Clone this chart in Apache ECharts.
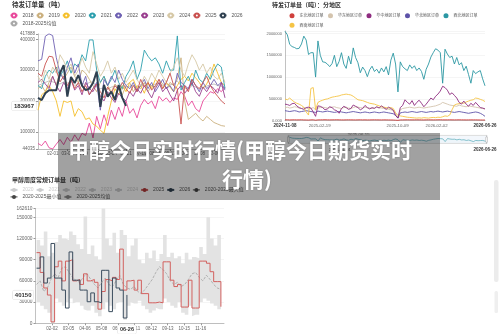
<!DOCTYPE html>
<html>
<head>
<meta charset="utf-8">
<script src="https://cdn.jsdelivr.net/npm/echarts@6/dist/echarts.min.js"></script>
<style>
html, body { margin: 0; padding: 0; background: #fff; }
#wrap { position: relative; width: 500px; height: 334px; overflow: hidden; }
.layer { position: absolute; left: 0; top: 0; width: 500px; height: 334px; }
</style>
</head>
<body>
<div id="wrap">
    <div id="orders" class="layer"></div>
    <div id="region" class="layer"></div>
    <div id="weekly" class="layer"></div>
    <div id="banner" class="layer"></div>
</div>
<script>
const FONT = '"Liberation Sans", "Noto Sans CJK SC", sans-serif';
const CJK = '"Noto Sans CJK SC", sans-serif';

/* ---------- 待发订单量（吨）: 按年 ---------- */
const orderWeeks = ["01-04", "01-11", "01-18", "01-25", "02-01", "02-08", "02-15", "02-22", "03-01", "03-08",
    "03-15", "03-22", "03-29", "04-05", "04-12", "04-19", "04-26", "05-03", "05-10", "05-17",
    "05-24", "05-31", "06-07", "06-14", "06-21", "06-28", "07-05", "07-12", "07-19", "07-26",
    "08-02", "08-09", "08-16", "08-23", "08-30", "09-06", "09-13", "09-20", "09-27", "10-04",
    "10-11", "10-18", "10-25", "11-01", "11-08", "11-15", "11-22", "11-29", "12-06", "12-13",
    "12-20", "12-27"];
const orders2018 = [62000, 55000, 70000, 48000, 44035, 60000, 75000, 58000, 82000, 66000,
    90000, 72000, 95000, 88000, 128000, 80000, 150000, 110000, 155000, 120000,
    170000, 140000, 180000, 150000, 200000, 160000, 175000, 145000, 185000, 205000,
    190000, 200000, 175000, 215000, 200000, 210000, 195000, 210000, 205000, 230000,
    215000, 185000, 200000, 175000, 165000, 200000, 215000, 230000, 225000, 240000,
    230000, 245000];
const orders2019 = [240000, 250000, 230000, 260000, 280000, 250000, 300000, 270000, 290000, 310000,
    280000, 260000, 300000, 290000, 270000, 250000, 230000, 260000, 280000, 250000,
    230000, 255000, 240000, 220000, 250000, 260000, 230000, 250000, 240000, 260000,
    230000, 250000, 245000, 270000, 255000, 240000, 260000, 250000, 270000, 340000,
    200000, 140000, 150000, 160000, 145000, 135000, 150000, 140000, 130000, 125000,
    120000, 118000];
const orders2020 = [170000, 220000, 230000, 250000, 230000, 200000, 150000, 200000, 195000, 200000,
    150000, 175000, 165000, 140000, 145000, 125000, 118000, 105000, 95000, 150000,
    200000, 240000, 220000, 250000, 230000, 260000, 270000, 240000, 250000, 225000,
    260000, 240000, 270000, 255000, 240000, 260000, 245000, 230000, 250000, 270000,
    280000, 265000, 290000, 275000, 260000, 240000, 255000, 280000, 320000, 290000,
    260000, 250000];
const orders2021 = [250000, 240000, 280000, 300000, 290000, 310000, 280000, 300000, 330000, 290000,
    320000, 310000, 350000, 330000, 398000, 398000, 300000, 260000, 280000, 250000,
    270000, 300000, 260000, 240000, 280000, 300000, 330000, 270000, 300000, 365000,
    345000, 330000, 340000, 320000, 290000, 330000, 300000, 300000, 411000, 235000,
    260000, 280000, 250000, 300000, 270000, 260000, 290000, 270000, 300000, 320000,
    310000, 240000];
const orders2022 = [330000, 335000, 410000, 417888, 412000, 340000, 290000, 270000, 310000, 340000,
    290000, 320000, 250000, 280000, 220000, 240000, 260000, 170000, 270000, 250000,
    280000, 260000, 300000, 270000, 250000, 240000, 260000, 230000, 250000, 270000,
    240000, 260000, 230000, 250000, 270000, 240000, 250000, 230000, 290000, 260000,
    250000, 240000, 270000, 250000, 230000, 260000, 240000, 250000, 270000, 250000,
    260000, 235000];
const orders2023 = [260000, 270000, 255000, 240000, 280000, 250000, 230000, 260000, 240000, 270000,
    235000, 250000, 220000, 260000, 240000, 230000, 255000, 215000, 200000, 230000,
    210000, 195000, 225000, 210000, 200000, 230000, 215000, 240000, 225000, 250000,
    230000, 210000, 240000, 260000, 230000, 245000, 220000, 200000, 235000, 250000,
    225000, 240000, 260000, 230000, 215000, 245000, 230000, 250000, 240000, 225000,
    260000, 210000];
const orders2024 = [280000, 260000, 300000, 270000, 310000, 290000, 350000, 330000, 300000, 320000,
    280000, 300000, 340000, 310000, 290000, 360000, 320000, 280000, 300000, 330000,
    290000, 310000, 270000, 290000, 260000, 280000, 300000, 270000, 250000, 280000,
    260000, 290000, 270000, 300000, 280000, 260000, 290000, 310000, 340000, 300000,
    280000, 320000, 350000, 330000, 300000, 320000, 290000, 310000, 280000, 270000,
    290000, 260000];
const orders2025 = [290000, 280000, 320000, 345000, 343000, 300000, 262000, 280000, 250000, 270000,
    240000, 260000, 230000, 250000, 220000, 240000, 255000, 230000, 210000, 245000,
    225000, 250000, 235000, 260000, 240000, 225000, 250000, 230000, 270000, 245000,
    260000, 235000, 250000, 270000, 240000, 260000, 290000, 250000, 240000, 125000,
    250000, 230000, 270000, 250000, 240000, 260000, 280000, 250000, 230000, 215000,
    200000, 190000];
const orders2026 = [210000, 203000, 225000, 235000, 235000, 235000, 290000, 316000, 214000, 278000,
    258000, 284000, 250000, 235000, 240000, 258000, 295000, 181000, 252000, 214000,
    230000, 203000, 252000, 210000, 183967];
const ordersMean = [250000, 255000, 260000, 265000, 262000, 258000, 255000, 262000, 258000, 265000,
    250000, 255000, 258000, 252000, 260000, 262000, 245000, 240000, 242000, 238000,
    245000, 248000, 242000, 238000, 245000, 248000, 250000, 245000, 248000, 258000,
    252000, 250000, 255000, 258000, 250000, 255000, 252000, 255000, 265000, 250000,
    242000, 238000, 250000, 245000, 238000, 245000, 248000, 252000, 255000, 250000,
    248000, 240000];
const ordersLatest = 183967;

/* ---------- 待发订单量（吨）：分地区 ---------- */
const regionDays = [];
for (let t = Date.UTC(2024, 10, 8); t <= Date.UTC(2026, 5, 26); t += 864e5) {
    regionDays.push(new Date(t).toISOString().slice(0, 10));
}
const regionTicks = ["2024-11-08", "2025-02-19", "2025-06-15", "2025-10-09", "2026-02-02", "2026-06-26"];
const regionNE = [20000, 22000, 18000, 20000, 21000, 19000, 20000, 22000, 18000, 17000,
    15000, 20000, 21000, 12000, 19000, 20000, 21000, 22000, 20000, 19000,
    20000, 21000, 22000, 20000, 19000, 18000, 20000, 21000, 20000, 19000,
    18000, 20000, 21000, 19000, 20000, 18000, 19000, 20000, 21000, 20000,
    19000, 18000, 20000, 19000, 18000, 17000, 16000, 12000, 8000, 18000,
    19000, 20000, 21000, 20000, 19000, 20000, 21000, 20000, 19000, 18000,
    20000, 21000, 20000, 19000, 20000, 21000, 22000, 20000, 19000, 20000,
    21000, 20000, 19000, 20000, 21000, 20000, 19000, 18000, 19000, 20000,
    19000, 20000, 18000, 17000, 16000, 15000];
const regionEast = [300000, 310000, 290000, 300000, 320000, 310000, 290000, 280000, 300000, 290000,
    270000, 280000, 300000, 250000, 290000, 300000, 310000, 300000, 290000, 300000,
    310000, 320000, 300000, 290000, 280000, 300000, 310000, 290000, 280000, 300000,
    320000, 310000, 300000, 290000, 310000, 300000, 290000, 280000, 300000, 310000,
    300000, 290000, 280000, 270000, 260000, 250000, 240000, 150000, 80000, 250000,
    280000, 290000, 300000, 310000, 300000, 290000, 300000, 310000, 300000, 290000,
    300000, 310000, 320000, 330000, 340000, 360000, 380000, 420000, 400000, 380000,
    360000, 350000, 340000, 330000, 360000, 340000, 330000, 320000, 340000, 330000,
    320000, 310000, 300000, 290000, 280000, 270000];
const regionCentral = [380000, 370000, 350000, 390000, 400000, 340000, 300000, 280000, 260000, 300000,
    310000, 290000, 200000, 100000, 340000, 330000, 300000, 250000, 270000, 320000,
    300000, 250000, 230000, 170000, 280000, 330000, 300000, 260000, 280000, 360000,
    330000, 300000, 250000, 280000, 350000, 300000, 270000, 300000, 280000, 320000,
    290000, 340000, 300000, 260000, 310000, 280000, 240000, 120000, 60000, 300000,
    350000, 480000, 420000, 380000, 460000, 350000, 420000, 470000, 400000, 320000,
    380000, 450000, 520000, 480000, 560000, 610000, 680000, 790000, 760000, 700000,
    600000, 640000, 580000, 520000, 420000, 380000, 450000, 380000, 330000, 400000,
    350000, 420000, 360000, 300000, 290000, 270000];
const regionNorth = [230000, 220000, 210000, 220000, 230000, 220000, 200000, 210000, 220000, 230000,
    220000, 210000, 200000, 190000, 220000, 210000, 200000, 210000, 220000, 210000,
    200000, 190000, 200000, 210000, 200000, 190000, 180000, 190000, 200000, 210000,
    200000, 190000, 180000, 190000, 200000, 190000, 180000, 190000, 200000, 190000,
    180000, 190000, 200000, 190000, 180000, 170000, 160000, 120000, 60000, 180000,
    190000, 200000, 190000, 200000, 210000, 200000, 190000, 200000, 210000, 200000,
    190000, 200000, 210000, 200000, 210000, 220000, 210000, 200000, 210000, 220000,
    210000, 200000, 190000, 200000, 210000, 200000, 190000, 180000, 170000, 180000,
    190000, 200000, 190000, 170000, 140000, 100000];
const regionNW = [2050000, 1970000, 1750000, 1700000, 1680000, 1650000, 1660000, 1760000, 1940000, 1850000,
    1520000, 1560000, 1560000, 1000000, 1830000, 1500000, 1350000, 1340000, 1300000, 1240000,
    1310000, 1500000, 1240000, 1360000, 1560000, 1300000, 1200000, 1480000, 1300000, 1670000,
    1450000, 1330000, 1100000, 1230000, 1150000, 1010000, 1170000, 1250000, 1130000, 1180000,
    1090000, 1210000, 1120000, 1240000, 1050000, 1390000, 1550000, 1300000, 660000, 1350000,
    1240000, 1190000, 1150000, 1280000, 1200000, 1260000, 1150000, 1210000, 1130000, 950000,
    1180000, 1300000, 1460000, 1560000, 1650000, 1620000, 1560000, 860000, 1640000, 1530000,
    1450000, 1480000, 1300000, 1450000, 1280000, 1330000, 1150000, 1250000, 1060000, 860000,
    1150000, 1080000, 1120000, 1150000, 960000, 800000];
const regionSW = [500000, 480000, 520000, 470000, 430000, 400000, 380000, 350000, 310000, 200000,
    130000, 740000, 760000, 250000, 420000, 450000, 470000, 490000, 500000, 520000,
    540000, 550000, 560000, 570000, 590000, 600000, 610000, 600000, 590000, 560000,
    520000, 480000, 470000, 460000, 440000, 420000, 400000, 390000, 380000, 360000,
    340000, 320000, 310000, 300000, 290000, 300000, 280000, 180000, 120000, 110000,
    100000, 90000, 80000, 75000, 70000, 65000, 60000, 65000, 60000, 70000,
    65000, 60000, 70000, 75000, 70000, 80000, 75000, 90000, 110000, 100000,
    130000, 250000, 360000, 380000, 390000, 410000, 400000, 430000, 450000, 470000,
    480000, 520000, 510000, 490000, 470000, 440000];

/* ---------- 甲醇周度常规订单量（吨） ---------- */
const weeklyDays = [];
for (let t = Date.UTC(2024, 0, 1); t <= Date.UTC(2024, 11, 31); t += 864e5) {
    weeklyDays.push(new Date(t).toISOString().slice(5, 10));
}
const weeklyTicks = ["02-02", "03-05", "04-06", "05-08", "06-09", "07-11", "08-12", "09-13", "10-15", "11-16"];
const weekly2025 = [100000, 72000, 50000, 40000, 2000, 80000, 88000, 60000, 88000, 90000,
    60000, 62000, 55000, 70000, 60000, 62000, 58000, 20000, 45000, 62000,
    60000, 65000, 62000, 105000, 47000, 60000, 61000, 47000, 61000, 42000,
    42000, 29000, 29000, 30000, 29000, 87000, 87000, 61000, 52000, 55000,
    23000, 23000, 61000, 21600, 21600, 88000, 88000, 85000, 73000, 59000,
    59000, 23500];
const weekly2026 = [78000, 94000, 57000, 64000, 113000, 64000, 64000, 47000, 21600, 101000,
    61000, 61000, 47000, 47000, 30500, 43000, 30500, 29000, 75000, 75000,
    16500, 64000, 50000, 47000, 7500, 40150];
const weeklyMax = [118000, 110000, 130000, 95000, 100000, 115000, 125000, 120000, 118000, 130000,
    125000, 112000, 105000, 151000, 98000, 110000, 95000, 90000, 162610, 120000,
    110000, 128000, 100000, 132000, 125000, 95000, 110000, 120000, 90000, 85000,
    100000, 92000, 103000, 88000, 98000, 125000, 94000, 100000, 92000, 95000,
    85000, 100000, 90000, 94000, 92000, 108000, 98000, 150000, 120000, 110000,
    125000, 102000];
const weeklyMin = [30000, 25000, 20000, 15000, 0, 35000, 30000, 25000, 30000, 35000,
    28000, 30000, 25000, 20000, 18000, 25000, 15000, 10000, 20000, 30000,
    25000, 20000, 28000, 30000, 5000, 25000, 30000, 28000, 32000, 25000,
    20000, 15000, 18000, 22000, 20000, 35000, 30000, 25000, 22000, 30000,
    15000, 12000, 25000, 10000, 12000, 30000, 35000, 32000, 28000, 25000,
    20000, 15000];
const weeklyMean = [55000, 60000, 45000, 50000, 62000, 70000, 65000, 78000, 80000, 72000,
    65000, 60000, 58000, 66000, 70000, 62000, 55000, 50000, 58000, 64000,
    55000, 52000, 60000, 68000, 55000, 50000, 48000, 52000, 45000, 42000,
    48000, 55000, 62000, 72000, 80000, 76000, 70000, 60000, 55000, 58000,
    52000, 55000, 62000, 70000, 72000, 65000, 60000, 68000, 62000, 55000,
    50000, 48000];
const weeklyLatest = 40150;
const weeklyLatestDay = "06-26";

/* 周度数据点落在日历类目上 */
const regionPoint = (vals) => vals.map((v, k) => [regionDays[k * 7], v]);
const weeklyPoint = (vals) => vals.map((v, k) => [weeklyDays[2 + k * 7], v]);

const pointerLabel = {
    show: true,
    fontSize: 6,
    fontWeight: "bold",
    color: "#333",
    backgroundColor: "#fff",
    borderColor: "#ddd",
    borderWidth: 0.5,
    borderRadius: 1,
    padding: [1.5, 2],
    margin: 2,
};

/**待发订单量 按年 */
const ordersChart = echarts.init(document.getElementById("orders"));
function yearLine(name, data, color, width) {
    return {
        name: name,
        type: "line",
        data: data,
        symbol: "emptyCircle",
        symbolSize: 3,
        showSymbol: false,
        lineStyle: { width: width || 0.9, color: color },
        itemStyle: { color: color },
    };
}
ordersChart.setOption({
    backgroundColor: "#fff",
    animation: false,
    textStyle: { fontFamily: FONT },
    title: {
        text: "待发订单量（吨）",
        left: 12,
        top: 1.5,
        padding: 0,
        textStyle: { fontSize: 6.5, fontWeight: "bold", color: "#333", fontFamily: CJK },
    },
    legend: {
        left: 9.5,
        top: 12.4,
        width: 240,
        padding: 0,
        itemWidth: 7,
        itemHeight: 5,
        itemGap: 2,
        textStyle: { fontSize: 5, color: "#555" },
        data: ["2018", "2019", "2020", "2021", "2022", "2023", "2024", "2025", "2026", "2018-2025均值"],
    },
    grid: { left: 38, top: 33.8, width: 187, height: 115.2 },
    xAxis: {
        type: "category",
        data: orderWeeks,
        boundaryGap: false,
        axisLine: { lineStyle: { color: "#999", width: 0.6 } },
        axisTick: { length: 2, interval: (i) => i > 0 && i % 4 === 0 },
        axisLabel: { fontSize: 4.5, color: "#666", margin: 3, interval: (i) => i > 0 && i % 4 === 0 },
    },
    yAxis: {
        type: "value",
        min: 44035,
        max: 417888,
        axisLine: { show: true, lineStyle: { color: "#999", width: 0.6 } },
        axisTick: { show: true, length: 2 },
        splitLine: { lineStyle: { color: "#eee", width: 0.6 } },
        axisLabel: { fontSize: 4.5, color: "#666", margin: 3, formatter: (v) => String(v) },
        axisPointer: {
            show: true,
            value: ordersLatest,
            status: "show",
            triggerTooltip: false,
            lineStyle: { color: "rgba(0,0,0,0)" },
            label: Object.assign({}, pointerLabel, { formatter: (p) => String(Math.round(p.value)) }),
        },
    },
    series: [
        yearLine("2018-2025均值", ordersMean, "#a8a8a8", 0.7),
        yearLine("2018", orders2018, "#e8479a"),
        yearLine("2019", orders2019, "#cbb07e"),
        yearLine("2020", orders2020, "#f5c02c"),
        yearLine("2021", orders2021, "#2c9fae"),
        yearLine("2022", orders2022, "#6f61b3"),
        yearLine("2023", orders2023, "#9a3f8f"),
        yearLine("2024", orders2024, "#d6c8a6"),
        yearLine("2025", orders2025, "#c9514f"),
        yearLine("2026", orders2026, "#2f4050", 2),
    ],
});

/**待发订单量 分地区 */
const regionChart = echarts.init(document.getElementById("region"));
function regionLine(name, data, color) {
    return {
        name: name,
        type: "line",
        data: regionPoint(data),
        symbol: "circle",
        showSymbol: false,
        lineStyle: { width: 0.9, color: color },
        itemStyle: { color: color },
    };
}
regionChart.setOption({
    animation: false,
    textStyle: { fontFamily: FONT },
    title: {
        text: "待发订单量（吨）：分地区",
        left: 272,
        top: 1.5,
        padding: 0,
        textStyle: { fontSize: 6, fontWeight: "bold", color: "#333", fontFamily: CJK },
    },
    legend: {
        left: 289.5,
        top: 13.3,
        width: 195,
        padding: 0,
        icon: "circle",
        itemWidth: 5,
        itemHeight: 5,
        itemGap: 4.5,
        textStyle: { fontSize: 4, color: "#555", fontFamily: CJK },
        data: ["东北地区订单", "华东地区订单", "华中地区订单", "华北地区订单", "西北地区订单", "西南地区订单"],
    },
    grid: { left: 285, top: 30.9, width: 200, height: 89.8 },
    xAxis: {
        type: "category",
        data: regionDays,
        boundaryGap: false,
        axisLine: { lineStyle: { color: "#999", width: 0.6 } },
        axisTick: { show: false },
        axisLabel: {
            fontSize: 4.3,
            color: "#666",
            margin: 3,
            interval: (i, v) => regionTicks.indexOf(v) >= 0,
            formatter: (v) => {
                if (v === regionTicks[0] || v === regionTicks[5]) return "{b|" + v + "}";
                if (v === regionTicks[2]) return "{low|" + v + "}";
                return v;
            },
            rich: {
                b: { fontSize: 4.5, fontWeight: "bold", color: "#333" },
                low: { fontSize: 4.3, color: "#666", padding: [9, 0, 0, 0] },
            },
        },
    },
    yAxis: {
        type: "value",
        min: 0,
        max: 2060000,
        interval: 500000,
        axisLine: { show: true, lineStyle: { color: "#999", width: 0.6 } },
        axisTick: { show: false },
        splitLine: { lineStyle: { color: "#eee", width: 0.6 } },
        axisLabel: {
            fontSize: 4,
            color: "#666",
            margin: 3,
            showMaxLabel: false,
            formatter: (v) => (v === 0 ? "0.000" : String(v)),
        },
    },
    dataZoom: [
        {
            type: "slider",
            xAxisIndex: 0,
            left: 285,
            width: 200,
            top: 134.5,
            height: 8.5,
            start: 0,
            end: 100,
            showDetail: false,
            brushSelect: false,
            moveHandleSize: 0,
            handleSize: "100%",
            handleStyle: { color: "#fff", borderColor: "#aaa", borderWidth: 0.5 },
            borderColor: "#ddd",
            fillerColor: "rgba(160,190,230,0.12)",
            dataBackground: {
                lineStyle: { color: "#bbb", width: 0.5 },
                areaStyle: { color: "rgba(200,200,200,0.25)" },
            },
            selectedDataBackground: {
                lineStyle: { color: "#2b97a3", width: 0.6 },
                areaStyle: { color: "rgba(43,151,163,0.08)" },
            },
        },
    ],
    graphic: [
        { type: "text", x: 340, y: 150, style: { text: "2024-01-01", font: "4.3px " + FONT, fill: "#666", align: "center", verticalAlign: "middle" } },
        { type: "text", x: 485, y: 150, style: { text: "2026-06-26", font: "bold 4.5px " + FONT, fill: "#333", align: "center", verticalAlign: "middle" } },
    ],
    series: [
        regionLine("西北地区订单", regionNW, "#2b97a3"),
        regionLine("东北地区订单", regionNE, "#d0403c"),
        regionLine("华东地区订单", regionEast, "#d4c4ae"),
        regionLine("华北地区订单", regionNorth, "#5d52a8"),
        regionLine("西南地区订单", regionSW, "#f5c445"),
        regionLine("华中地区订单", regionCentral, "#8e2c80"),
    ],
});

/**甲醇周度常规订单量 */
const weeklyChart = echarts.init(document.getElementById("weekly"));
const stepBase = { type: "line", step: "end", symbol: "circle", symbolSize: 3, showSymbol: false };
const hiddenYears = ["2020", "2021", "2022", "2023", "2024"];
const bandIcon = { lineStyle: { opacity: 1, color: "#444", width: 1 }, itemStyle: { color: "#444" } };
weeklyChart.setOption({
    animation: false,
    textStyle: { fontFamily: FONT },
    title: {
        text: "甲醇周度常规订单量（吨）",
        left: 12,
        top: 176.5,
        padding: 0,
        textStyle: { fontSize: 6, fontWeight: "bold", color: "#333", fontFamily: CJK },
    },
    legend: {
        left: 9.5,
        top: 187.4,
        width: 240,
        padding: 0,
        itemWidth: 7,
        itemHeight: 5,
        itemGap: 2,
        inactiveColor: "#ccc",
        textStyle: { fontSize: 5, color: "#555" },
        selected: { "2020": false, "2021": false, "2022": false, "2023": false, "2024": false },
        data: [
            "2020", "2021", "2022", "2023", "2024", "2025", "2026",
            Object.assign({ name: "2020-2025最大值" }, bandIcon),
            Object.assign({ name: "2020-2025最小值" }, bandIcon),
            "2020-2025均值",
        ],
    },
    grid: { left: 35.5, top: 208.4, width: 188.5, height: 114.9 },
    xAxis: {
        type: "category",
        data: weeklyDays,
        boundaryGap: false,
        axisLine: { lineStyle: { color: "#999", width: 0.6 } },
        axisTick: { length: 2, interval: (i, v) => weeklyTicks.indexOf(v) >= 0 },
        axisLabel: { fontSize: 4.5, color: "#666", margin: 3, interval: (i, v) => weeklyTicks.indexOf(v) >= 0 },
        axisPointer: {
            show: true,
            value: weeklyDays.indexOf(weeklyLatestDay),
            status: "show",
            triggerTooltip: false,
            lineStyle: { color: "rgba(0,0,0,0)" },
            label: Object.assign({}, pointerLabel, {
                fontSize: 5.5,
                margin: 2,
                formatter: (p) => (typeof p.value === "number" ? weeklyDays[p.value] : p.value),
            }),
        },
    },
    yAxis: {
        type: "value",
        min: 0,
        max: 162610,
        interval: 30000,
        axisLine: { show: true, lineStyle: { color: "#999", width: 0.6 } },
        axisTick: { show: true, length: 2 },
        splitLine: { lineStyle: { color: "#eee", width: 0.6 } },
        axisLabel: { fontSize: 4.8, color: "#666", margin: 3, formatter: (v) => String(v) },
        axisPointer: {
            show: true,
            value: weeklyLatest,
            status: "show",
            triggerTooltip: false,
            lineStyle: { color: "rgba(0,0,0,0)" },
            label: Object.assign({}, pointerLabel, { formatter: (p) => String(Math.round(p.value)) }),
        },
    },
    series: [
        Object.assign({}, stepBase, {
            name: "2020-2025最小值",
            stack: "band",
            data: weeklyPoint(weeklyMin),
            lineStyle: { opacity: 0 },
            itemStyle: { color: "#444" },
        }),
        Object.assign({}, stepBase, {
            name: "2020-2025最大值",
            stack: "band",
            data: weeklyPoint(weeklyMax.map((v, k) => v - weeklyMin[k])),
            lineStyle: { opacity: 0 },
            areaStyle: { color: "#e3e3e3", opacity: 1 },
            itemStyle: { color: "#444" },
        }),
        {
            name: "2020-2025均值",
            type: "line",
            data: weeklyPoint(weeklyMean),
            symbol: "circle",
            symbolSize: 1.5,
            lineStyle: { type: "dashed", width: 0.7, color: "#9a9a9a" },
            itemStyle: { color: "#8a8a8a" },
        },
        Object.assign({}, stepBase, {
            name: "2025",
            data: weeklyPoint(weekly2025),
            lineStyle: { width: 1, color: "#d2605e" },
            itemStyle: { color: "#b23b3b" },
        }),
        Object.assign({}, stepBase, {
            name: "2026",
            data: weeklyPoint(weekly2026),
            lineStyle: { width: 1, color: "#3b4d5e" },
            itemStyle: { color: "#2f4050" },
        }),
    ].concat(hiddenYears.map((n) => ({ name: n, type: "line", data: [], symbol: "circle", itemStyle: { color: "#bbb" } }))),
});

/**标题横幅 */
const bannerChart = echarts.init(document.getElementById("banner"));
bannerChart.setOption({
    animation: false,
    graphic: [
        { type: "rect", shape: { x: 58, y: 133, width: 382, height: 67 }, style: { fill: "rgba(0,0,0,0.37)" } },
        {
            type: "text",
            x: 240,
            y: 150,
            style: {
                text: "甲醇今日实时行情(甲醇今日期货实时",
                font: "bold 21px " + CJK,
                fill: "#fff",
                align: "center",
                verticalAlign: "middle",
                textShadowColor: "rgba(0,0,0,0.25)",
                textShadowBlur: 2,
            },
        },
        {
            type: "text",
            x: 247,
            y: 179,
            style: {
                text: "行情)",
                font: "bold 21px " + CJK,
                fill: "#fff",
                align: "center",
                verticalAlign: "middle",
                textShadowColor: "rgba(0,0,0,0.25)",
                textShadowBlur: 2,
            },
        },
        { type: "rect", shape: { x: 494, y: 180, width: 4.5, height: 102, r: 2 }, style: { fill: "#ececec" } },
        { type: "rect", shape: { x: 494.5, y: 291, width: 3.5, height: 22, r: 1.5 }, style: { fill: "#efefef" } },
    ],
});
</script>
</body>
</html>
